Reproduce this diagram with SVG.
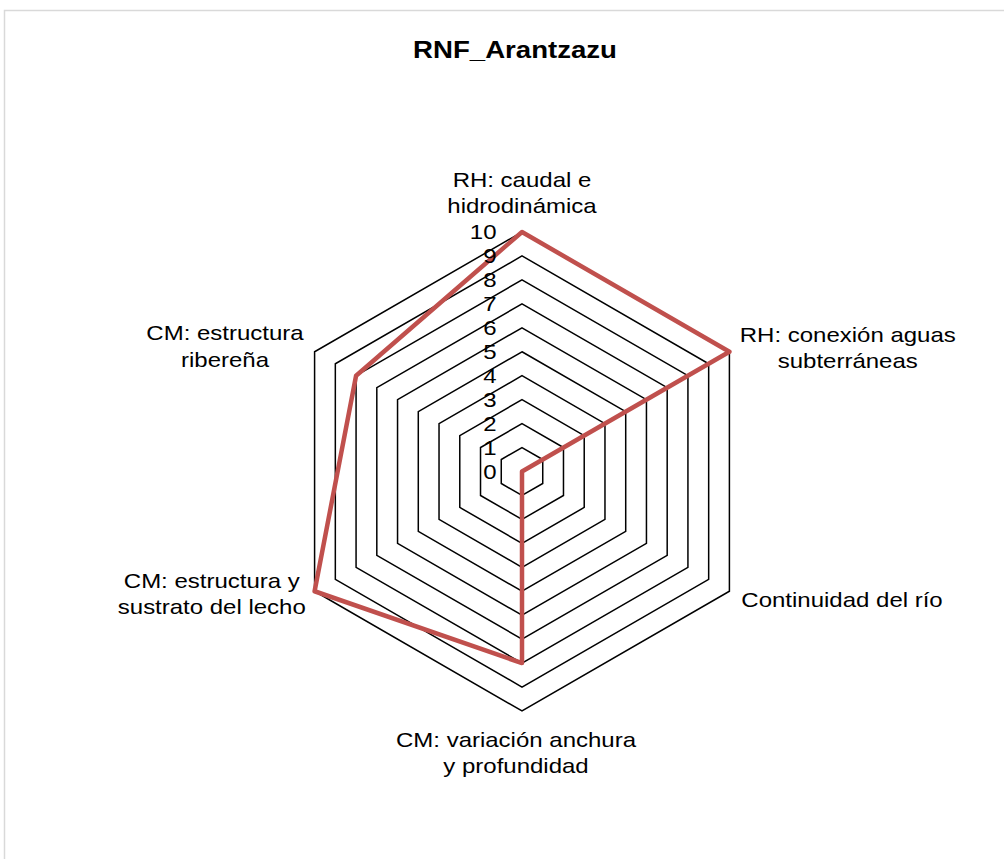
<svg xmlns="http://www.w3.org/2000/svg" width="1004" height="859" viewBox="0 0 1004 859">
<style>
.ring{fill:none;stroke:#000;stroke-width:1.5}
.data{fill:none;stroke:#C0504D;stroke-width:4.5;stroke-linejoin:round}
.lbl{font-family:"Liberation Sans",Arial,sans-serif;font-size:20px;fill:#000;text-anchor:middle}
.num{font-family:"Liberation Sans",Arial,sans-serif;font-size:20px;fill:#000;text-anchor:end}
.title{font-family:"Liberation Sans",Arial,sans-serif;font-size:23px;font-weight:bold;fill:#000;text-anchor:middle}
</style>
<rect x="0" y="0" width="1004" height="859" fill="#fff"/>
<rect x="4.5" y="10.5" width="1020" height="880" fill="#fff" stroke="#d9d9d9" stroke-width="1.5"/>
<g id="grid">
<polygon class="ring" points="522,447.55 542.74,459.53 542.74,483.48 522,495.45 501.26,483.48 501.26,459.53"/>
<polygon class="ring" points="522,423.6 563.48,447.55 563.48,495.45 522,519.4 480.52,495.45 480.52,447.55"/>
<polygon class="ring" points="522,399.65 584.22,435.58 584.22,507.43 522,543.35 459.78,507.43 459.78,435.58"/>
<polygon class="ring" points="522,375.7 604.97,423.6 604.97,519.4 522,567.3 439.03,519.4 439.03,423.6"/>
<polygon class="ring" points="522,351.75 625.71,411.63 625.71,531.38 522,591.25 418.29,531.38 418.29,411.63"/>
<polygon class="ring" points="522,327.8 646.45,399.65 646.45,543.35 522,615.2 397.55,543.35 397.55,399.65"/>
<polygon class="ring" points="522,303.85 667.19,387.68 667.19,555.33 522,639.15 376.81,555.33 376.81,387.68"/>
<polygon class="ring" points="522,279.9 687.93,375.7 687.93,567.3 522,663.1 356.07,567.3 356.07,375.7"/>
<polygon class="ring" points="522,255.95 708.67,363.73 708.67,579.28 522,687.05 335.33,579.28 335.33,363.73"/>
<polygon class="ring" points="522,232 729.41,351.75 729.41,591.25 522,710.95 314.59,591.25 314.59,351.75"/>
</g>
<g id="series">
<polygon class="data" points="522,232 729.41,351.75 522,471.5 522,663.1 314.59,591.25 356.07,375.7"/>
</g>
<g id="title"><text class="title" transform="scale(1.2 1)" x="429.2" y="58">RNF_Arantzazu</text></g>
<g id="axis-values" transform="scale(1.2 1)">
<text class="num" x="413.75" y="479">0</text>
<text class="num" x="413.75" y="455.05">1</text>
<text class="num" x="413.75" y="431.1">2</text>
<text class="num" x="413.75" y="407.15">3</text>
<text class="num" x="413.75" y="383.2">4</text>
<text class="num" x="413.75" y="359.25">5</text>
<text class="num" x="413.75" y="335.3">6</text>
<text class="num" x="413.75" y="311.35">7</text>
<text class="num" x="413.75" y="287.4">8</text>
<text class="num" x="413.75" y="263.45">9</text>
<text class="num" x="413.75" y="239.5">10</text>
</g>
<g id="label-rh-caudal" transform="scale(1.2 1)">
<text class="lbl" x="435" y="187">RH: caudal e</text>
<text class="lbl" x="435" y="213.5">hidrodinámica</text>
</g>
<g id="label-rh-conexion" transform="scale(1.2 1)">
<text class="lbl" x="706.5" y="342">RH: conexión aguas</text>
<text class="lbl" x="706.5" y="368.5">subterráneas</text>
</g>
<g id="label-continuidad" transform="scale(1.2 1)">
<text class="lbl" x="701.7" y="607">Continuidad del río</text>
</g>
<g id="label-cm-variacion" transform="scale(1.2 1)">
<text class="lbl" x="430" y="747">CM: variación anchura</text>
<text class="lbl" x="430" y="773.5">y profundidad</text>
</g>
<g id="label-cm-lecho" transform="scale(1.2 1)">
<text class="lbl" x="176.5" y="588">CM: estructura y</text>
<text class="lbl" x="176.5" y="614.5">sustrato del lecho</text>
</g>
<g id="label-cm-riberena" transform="scale(1.2 1)">
<text class="lbl" x="187.5" y="340">CM: estructura</text>
<text class="lbl" x="187.5" y="366.5">ribereña</text>
</g>
</svg>
